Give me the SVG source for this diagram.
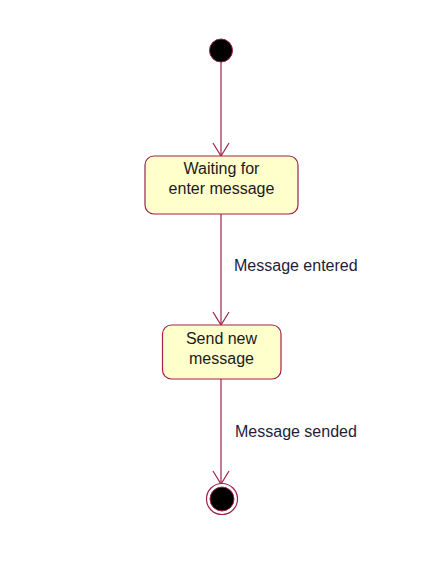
<svg xmlns="http://www.w3.org/2000/svg" width="448" height="578" viewBox="0 0 448 578">
<style>
.edge{stroke:#a0224a;stroke-width:1.2;fill:none}
.state{fill:#ffffcc;stroke:#a0224a;stroke-width:1.2}
.t{font-family:"Liberation Sans",Arial,sans-serif;font-size:16px;fill:#1a1a1a;text-anchor:middle}
.lbl{font-family:"Liberation Sans",Arial,sans-serif;font-size:16px;fill:#1c1c3c}
</style>
<rect width="448" height="578" fill="#ffffff"/>
<g id="connectors">
<line class="edge" x1="221" y1="62" x2="221" y2="156"/>
<path class="edge" d="M213,143 L221,156 L229,143"/>
<line class="edge" x1="221" y1="214" x2="221" y2="325"/>
<path class="edge" d="M213,312 L221,325 L229,312"/>
<text class="lbl" x="234" y="271">Message entered</text>
<line class="edge" x1="221" y1="379" x2="221" y2="484"/>
<path class="edge" d="M213,471 L221,484 L229,471"/>
<text class="lbl" x="235" y="437">Message sended</text>
</g>
<g id="initial">
<circle cx="221" cy="50.5" r="11.5" fill="#000000" stroke="#a0224a" stroke-width="1"/>
</g>
<g id="waiting">
<rect class="state" x="145" y="156" width="153" height="58" rx="9" ry="9"/>
<text class="t" x="221.5" y="174">Waiting for</text>
<text class="t" x="221.5" y="194">enter message</text>
</g>
<g id="send">
<rect class="state" x="162.5" y="325" width="118.5" height="54" rx="9" ry="9"/>
<text class="t" x="221.5" y="344">Send new</text>
<text class="t" x="221.5" y="364">message</text>
</g>
<g id="final">
<circle cx="222" cy="499" r="15.5" fill="#ffffff" stroke="#a0224a" stroke-width="1.2"/>
<circle cx="222" cy="499" r="12" fill="#000000" stroke="#a0224a" stroke-width="1"/>
</g>
</svg>
